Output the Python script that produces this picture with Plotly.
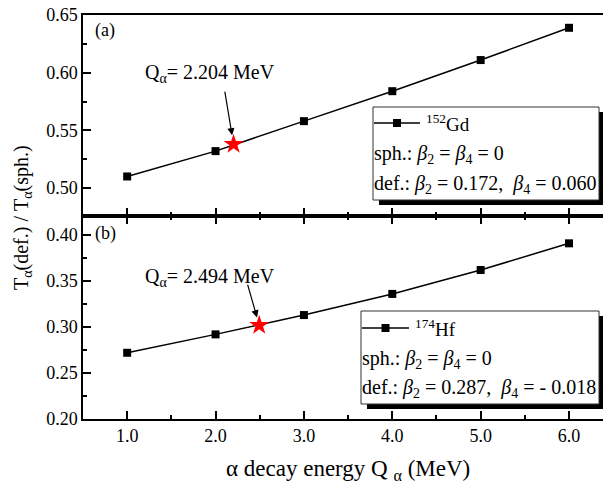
import plotly.graph_objects as go

# ---- data ----
q_energy = [1.0, 2.0, 3.0, 4.0, 5.0, 6.0]
ratio_gd152 = [0.510, 0.532, 0.558, 0.584, 0.611, 0.639]
ratio_hf174 = [0.272, 0.292, 0.313, 0.336, 0.362, 0.391]
star_gd_q = [2.204]
star_gd_val = [0.538]
star_hf_q = [2.494]
star_hf_val = [0.302]
x_ticks = [1.0, 2.0, 3.0, 4.0, 5.0, 6.0]
top_y_ticks = [0.50, 0.55, 0.60, 0.65]
bot_y_ticks = [0.20, 0.25, 0.30, 0.35, 0.40]

FONT = "Liberation Serif, Times New Roman, Times, serif"
OFF = 8  # page body margin
W, H = 611 - OFF, 493 - OFF
ML, MR, MT, MB = 83 - OFF, 0, 15 - OFF, 74
PW, PH = W - ML - MR, H - MT - MB
SPLIT = (419 - 216) / (419 - 15)


def px(xp):
    return (xp - OFF - ML) / PW


def py(yp):
    return (H - MB - (yp - OFF)) / PH


fig = go.Figure()

fig.add_trace(go.Scatter(x=q_energy, y=ratio_gd152, mode="lines+markers",
                         line=dict(color="black", width=1.5),
                         marker=dict(symbol="square", size=8, color="black"),
                         xaxis="x2", yaxis="y2", showlegend=False))
fig.add_trace(go.Scatter(x=star_gd_q, y=star_gd_val, mode="markers",
                         marker=dict(symbol="star", size=15, color="red", line=dict(width=0)),
                         xaxis="x2", yaxis="y2", showlegend=False))
fig.add_trace(go.Scatter(x=q_energy, y=ratio_hf174, mode="lines+markers",
                         line=dict(color="black", width=1.5),
                         marker=dict(symbol="square", size=8, color="black"),
                         xaxis="x", yaxis="y", showlegend=False))
fig.add_trace(go.Scatter(x=star_hf_q, y=star_hf_val, mode="markers",
                         marker=dict(symbol="star", size=15, color="red", line=dict(width=0)),
                         xaxis="x", yaxis="y", showlegend=False))

axis_common = dict(showgrid=False, zeroline=False, showline=True, linecolor="black",
                   linewidth=1.5, ticks="inside", tickcolor="black", tickwidth=1.5,
                   ticklen=8, automargin=False, ticklabeloverflow="allow",
                   tickfont=dict(family=FONT, size=18, color="black"))

xr = [0.5, 6.475]
fig.update_layout(
    width=W, height=H,
    margin=dict(l=ML, r=MR, t=MT, b=MB),
    paper_bgcolor="white", plot_bgcolor="white",
    font=dict(family=FONT, size=18, color="black"),
    xaxis=dict(domain=[0, 1], range=xr, tickvals=x_ticks, tickformat=".1f",
               mirror="ticks", anchor="y",
               minor=dict(dtick=0.5, tick0=0.5, ticks="inside", ticklen=4,
                          tickcolor="black", tickwidth=1.5),
               **axis_common),
    yaxis=dict(domain=[0, SPLIT], range=[0.20, 0.4207], tickvals=bot_y_ticks,
               tickformat=".2f", anchor="x",
               minor=dict(dtick=0.025, tick0=0.2, ticks="inside", ticklen=4,
                          tickcolor="black", tickwidth=1.5),
               **axis_common),
    xaxis2=dict(domain=[0, 1], range=xr, tickvals=x_ticks, showticklabels=False,
                mirror=True, anchor="y2",
                minor=dict(dtick=0.5, tick0=0.5, ticks="inside", ticklen=4,
                           tickcolor="black", tickwidth=1.5),
                **axis_common),
    yaxis2=dict(domain=[SPLIT, 1], range=[0.4757, 0.6501], tickvals=top_y_ticks,
                tickformat=".2f", anchor="x2",
                minor=dict(dtick=0.025, tick0=0.475, ticks="inside", ticklen=4,
                           tickcolor="black", tickwidth=1.5),
                **axis_common),
)

shapes = []
annots = []


def legend_box(x0, y0, x1, y1, line_x0, line_x1, row_y, texts, rows_y, text_x, label):
    # shadow
    shapes.append(dict(type="rect", xref="paper", yref="paper",
                       x0=px(x0 + 6), x1=px(x1 + 6), y0=py(y1 + 5), y1=py(y0 + 5),
                       fillcolor="black", line=dict(width=0), layer="above"))
    shapes.append(dict(type="rect", xref="paper", yref="paper",
                       x0=px(x0), x1=px(x1), y0=py(y1), y1=py(y0),
                       fillcolor="white", line=dict(color="#333", width=1), layer="above"))
    shapes.append(dict(type="line", xref="paper", yref="paper",
                       x0=px(line_x0), x1=px(line_x1), y0=py(row_y), y1=py(row_y),
                       line=dict(color="black", width=1.5), layer="above"))
    cx = (line_x0 + line_x1) / 2
    shapes.append(dict(type="rect", xref="paper", yref="paper",
                       x0=px(cx - 4), x1=px(cx + 4), y0=py(row_y + 4), y1=py(row_y - 4),
                       fillcolor="black", line=dict(width=0), layer="above"))
    annots.append(dict(xref="paper", yref="paper", x=px(line_x1 + 4), y=py(row_y),
                       text=label, showarrow=False, xanchor="left", yanchor="middle",
                       font=dict(family=FONT, size=19)))
    for t, ry in zip(texts, rows_y):
        annots.append(dict(xref="paper", yref="paper", x=px(text_x), y=py(ry),
                           text=t, showarrow=False, xanchor="left", yanchor="middle",
                           font=dict(family=FONT, size=20)))


legend_box(373, 107, 599, 200, 374, 420, 123,
           ["sph.: <i>β</i><sub>2</sub> = <i>β</i><sub>4</sub> = 0",
            "def.: <i>β</i><sub>2</sub> = 0.172,  <i>β</i><sub>4</sub> = 0.060"],
           [154, 184], 372, "<sup>152</sup>Gd")
legend_box(361, 311, 599, 404, 362, 409, 328,
           ["sph.: <i>β</i><sub>2</sub> = <i>β</i><sub>4</sub> = 0",
            "def.: <i>β</i><sub>2</sub> = 0.287,  <i>β</i><sub>4</sub> = - 0.018"],
           [359, 388], 360, "<sup>174</sup>Hf")

# arrows
annots.append(dict(x=star_gd_q[0], y=star_gd_val[0], xref="x2", yref="y2", text="",
                   showarrow=True, ax=-9, ay=-54, arrowhead=2, arrowsize=1.2,
                   arrowwidth=1.2, standoff=9, arrowcolor="black"))
annots.append(dict(x=star_hf_q[0], y=star_hf_val[0], xref="x", yref="y", text="",
                   showarrow=True, ax=-12, ay=-42, arrowhead=2, arrowsize=1.2,
                   arrowwidth=1.2, standoff=8, arrowcolor="black"))
annots.append(dict(xref="paper", yref="paper", x=px(210), y=py(73),
                   text="Q<sub>α</sub>= 2.204 MeV", showarrow=False,
                   xanchor="center", yanchor="middle",
                   font=dict(family=FONT, size=20)))
annots.append(dict(xref="paper", yref="paper", x=px(210), y=py(277),
                   text="Q<sub>α</sub>= 2.494 MeV", showarrow=False,
                   xanchor="center", yanchor="middle",
                   font=dict(family=FONT, size=20)))
# panel labels
annots.append(dict(xref="paper", yref="paper", x=px(93), y=py(30), text="(a)",
                   showarrow=False, xanchor="left", yanchor="middle",
                   font=dict(family=FONT, size=18)))
annots.append(dict(xref="paper", yref="paper", x=px(93), y=py(233), text="(b)",
                   showarrow=False, xanchor="left", yanchor="middle",
                   font=dict(family=FONT, size=18)))
# axis titles
annots.append(dict(xref="paper", yref="paper", x=px(22), y=py(218),
                   text="T<sub>α</sub>(def.) / T<sub>α</sub>(sph.)", textangle=-90,
                   showarrow=False, xanchor="center", yanchor="middle",
                   font=dict(family=FONT, size=20)))
annots.append(dict(xref="paper", yref="paper", x=px(348), y=py(470),
                   text="α decay energy Q <sub>α</sub> (MeV)",
                   showarrow=False, xanchor="center", yanchor="middle",
                   font=dict(family=FONT, size=23)))

fig.update_layout(shapes=shapes, annotations=annots)
fig.write_html("out.html")
